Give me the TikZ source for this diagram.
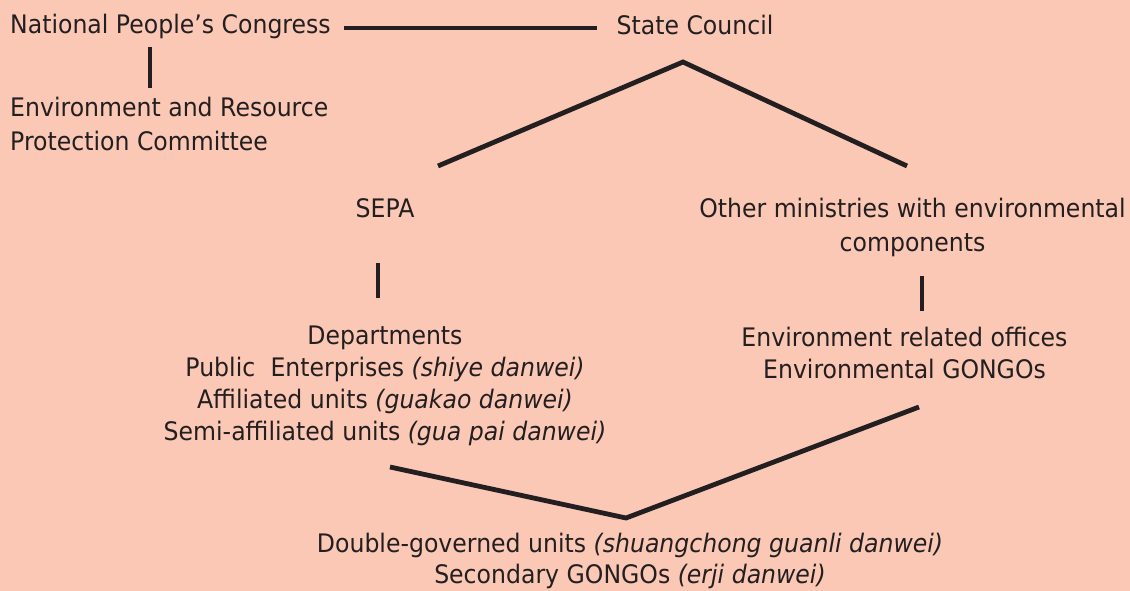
\documentclass[tikz,border=0pt]{standalone}
\usepackage{fontspec}
\setmainfont{DejaVu Sans}[FakeStretch=0.925]
\definecolor{bgpeach}{RGB}{251,200,182}
\definecolor{inkdark}{RGB}{35,31,32}
\tikzset{
  lbl/.style={inner sep=0pt, text=inkdark, align=center, anchor=base, font=\fontsize{25.5}{32}\selectfont},
  link/.style={line width=4.8pt, color=inkdark},
}

\begin{document}
\begin{tikzpicture}[x=1pt,y=-1pt]
			%%%%% BACKGROUND %%%%%
			\fill[bgpeach] (0,0) rectangle (1130,591);
			\useasboundingbox (0,0) rectangle (1130,591);
			
			%%%%% TOP ROW %%%%%
			\node[lbl, anchor=base west] (npc) at (10,34) {National People's Congress};
			\node[lbl] (sc) at (695,35) {State Council};
			\node[lbl, anchor=base west, align=left, font=\fontsize{25.5}{34}\selectfont] (erpc) at (10,151) {Environment and Resource\\Protection Committee};
			
			\coordinate (npcRight) at (344,28);
			\coordinate (scLeft) at (597,28);
			\draw[link] (npcRight) -- (scLeft);
			\coordinate (npcDown) at (150,47);
			\coordinate (erpcUp) at (150,88);
			\draw[link] (npcDown) -- (erpcUp);
			
			%%%%% MINISTRIES %%%%%
			\node[lbl] (sepa) at (385,217) {SEPA};
			\node[lbl, font=\fontsize{25.5}{34}\selectfont] (other) at (912.5,251) {Other ministries with environmental\\components};
			
			\coordinate (scApex) at (683,62);
			\coordinate (sepaUp) at (438,166);
			\coordinate (otherUp) at (907,166);
			\draw[link] (sepaUp) -- (scApex) -- (otherUp);
			
			%%%%% UNITS %%%%%
			\node[lbl] (dept) at (385,440) {Departments\\Public\hspace{0.6em}Enterprises \textit{(shiye danwei)}\\Affiliated units \textit{(guakao danwei)}\\Semi-affiliated units \textit{(gua pai danwei)}};
			\node[lbl] (envoff) at (904.5,378) {Environment related offices\\Environmental GONGOs};
			
			\coordinate (sepaDown) at (378,263);
			\coordinate (deptUp) at (378,298);
			\draw[link] (sepaDown) -- (deptUp);
			\coordinate (otherDown) at (922,276);
			\coordinate (envoffUp) at (922,311);
			\draw[link] (otherDown) -- (envoffUp);
			
			%%%%% DOUBLE-GOVERNED %%%%%
			\node[lbl, font=\fontsize{25.5}{31}\selectfont] (dbl) at (630,583) {Double-governed units \textit{(shuangchong guanli danwei)}\\Secondary GONGOs \textit{(erji danwei)}};
			
			\coordinate (deptDown) at (390,467);
			\coordinate (dblApex) at (626,518);
			\coordinate (envoffDown) at (919,407);
			\draw[link] (deptDown) -- (dblApex) -- (envoffDown);
\end{tikzpicture}
\end{document}
